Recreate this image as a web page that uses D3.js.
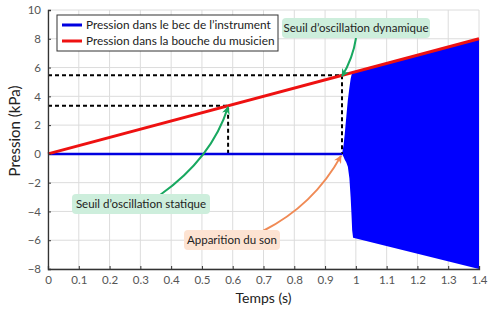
<!DOCTYPE html>
<html>
<head>
<meta charset="utf-8">
<script src="https://cdn.jsdelivr.net/npm/d3@7"></script>
<style>
  body { margin: 0; background: #fff; }
  text { font-family: "Lato", "Liberation Sans", sans-serif; }
</style>
</head>
<body>
<div id="chart"></div>
<script>
// data
let xTicks = [0, 0.1, 0.2, 0.3, 0.4, 0.5, 0.6, 0.7, 0.8, 0.9, 1, 1.1, 1.2, 1.3, 1.4];
let yTicks = [-8, -6, -4, -2, 0, 2, 4, 6, 8, 10];

// pressure in the player's mouth (linear ramp)
let mouthT = [0, 1.4];
let mouthP = [0, 8];

// pressure in the mouthpiece before oscillation
let beakT = [0, 0.955];
let beakP = [0, 0];

// oscillation envelope once the sound starts
let envT = [0.955, 0.96, 0.964, 0.969, 0.974, 0.979, 0.983, 0.986, 0.988, 0.991, 1.4];
let envUpper = [0, 0.6, 1.4, 2.6, 3.75, 4.6, 5.2, 5.5, 5.6, 5.64, 7.96];
let envLower = [0, -0.2, -0.4, -0.6, -0.9, -1.7, -3.0, -4.3, -5.3, -5.83, -8.0];

// thresholds
let staticT = 0.585, staticP = 3.34;
let dynamicT = 0.955, dynamicP = 5.46;

let width = 488, height = 309;
let margin = {left: 48, right: 9, top: 10, bottom: 40};

let svg = d3.select("#chart").append("svg")
    .attr("width", width)
    .attr("height", height);

let x = d3.scaleLinear().domain([0, 1.4]).range([margin.left, width - margin.right]);
let y = d3.scaleLinear().domain([-8, 10]).range([height - margin.bottom, margin.top]);

// grid
svg.append("g").selectAll("line").data(xTicks).join("line")
    .attr("x1", d => x(d)).attr("x2", d => x(d))
    .attr("y1", y(-8)).attr("y2", y(10))
    .style("stroke", "#dcdcdc").style("stroke-width", 1);
svg.append("g").selectAll("line").data(yTicks).join("line")
    .attr("x1", x(0)).attr("x2", x(1.4))
    .attr("y1", d => y(d)).attr("y2", d => y(d))
    .style("stroke", "#dcdcdc").style("stroke-width", 1);

// blue oscillation envelope
let env = envT.map((t, i) => ({t: t, hi: envUpper[i], lo: envLower[i]}));
svg.append("path")
    .datum(env)
    .attr("d", d3.area().x(d => x(d.t)).y0(d => y(d.lo)).y1(d => y(d.hi)))
    .style("fill", "#0000ff");

// dashed threshold guides
let dash = svg.append("g")
    .style("stroke", "#000").style("stroke-width", 2)
    .style("stroke-dasharray", "4,3").style("fill", "none");
[[staticT, staticP], [dynamicT, dynamicP]].forEach(p => {
    dash.append("path")
        .attr("d", d3.line()([[x(0), y(p[1])], [x(p[0]), y(p[1])], [x(p[0]), y(0)]]));
});

// lines
let line = d3.line().x(d => x(d[0])).y(d => y(d[1]));
svg.append("path")
    .datum(beakT.map((t, i) => [t, beakP[i]]))
    .attr("d", line)
    .style("fill", "none").style("stroke", "#0000e0").style("stroke-width", 2.5);
svg.append("path")
    .datum(mouthT.map((t, i) => [t, mouthP[i]]))
    .attr("d", line)
    .style("fill", "none").style("stroke", "#ee1111").style("stroke-width", 3);

// axes
let xAxis = svg.append("g")
    .attr("transform", "translate(0," + y(-8) + ")")
    .call(d3.axisBottom(x).tickValues(xTicks).tickSize(-3).tickPadding(7).tickFormat(d3.format("~g")));
let yAxis = svg.append("g")
    .attr("transform", "translate(" + x(0) + ",0)")
    .call(d3.axisLeft(y).tickValues(yTicks).tickSize(-3).tickPadding(7));
[xAxis, yAxis].forEach(a => {
    a.select(".domain").style("stroke", "#333").style("stroke-width", 1.3);
    a.selectAll(".tick line").style("stroke", "#333");
    a.selectAll(".tick text")
        .style("font-family", "Lato, sans-serif")
        .style("font-size", "11.5px")
        .style("fill", "#555");
});

svg.append("text")
    .attr("x", (x(0) + x(1.4)) / 2)
    .attr("y", 303)
    .attr("text-anchor", "middle")
    .style("font-size", "14px")
    .style("fill", "#222")
    .text("Temps (s)");

svg.append("text")
    .attr("transform", "translate(20," + 131 + ") rotate(-90)")
    .attr("text-anchor", "middle")
    .style("font-size", "15px")
    .style("fill", "#222")
    .text("Pression (kPa)");

// legend
let legend = svg.append("g");
legend.append("rect")
    .attr("x", 57).attr("y", 15).attr("width", 221).attr("height", 36)
    .style("fill", "#fff").style("stroke", "#333").style("stroke-width", 1);
let legendItems = [["Pression dans le bec de l’instrument", "#0000e0"], ["Pression dans la bouche du musicien", "#ee1111"]];
legendItems.forEach((item, i) => {
    legend.append("line")
        .attr("x1", 62).attr("x2", 82)
        .attr("y1", 25 + i * 16).attr("y2", 25 + i * 16)
        .style("stroke", item[1]).style("stroke-width", 3);
    legend.append("text")
        .attr("x", 86).attr("y", 29 + i * 16)
        .style("font-size", "11.8px")
        .style("fill", "#222")
        .text(item[0]);
});

// annotations
let defs = svg.append("defs");
function marker(id, color) {
    defs.append("marker")
        .attr("id", id)
        .attr("markerUnits", "userSpaceOnUse")
        .attr("viewBox", "0 0 10 10")
        .attr("refX", 9).attr("refY", 5)
        .attr("markerWidth", 8).attr("markerHeight", 8)
        .attr("orient", "auto")
        .append("path")
        .attr("d", "M0,0 L10,5 L0,10 L3,5 Z")
        .style("fill", color);
}
marker("arrowGreen", "#18a860");
marker("arrowOrange", "#f08a55");

let notes = [
    {text: "Seuil d’oscillation dynamique", cx: 356, cy: 28, w: 148, fill: "#cdeedc", stroke: "#18a860",
     path: "M356,38 Q353,58 " + x(dynamicT) + "," + (y(dynamicP) + 1), arrow: "arrowGreen"},
    {text: "Seuil d’oscillation statique", cx: 141, cy: 204, w: 138, fill: "#cdeedc", stroke: "#18a860",
     path: "M160,195 Q212,158 " + x(staticT) + "," + (y(staticP) + 1), arrow: "arrowGreen"},
    {text: "Apparition du son", cx: 232, cy: 240, w: 96, fill: "#fde3d2", stroke: "#f08a55",
     path: "M263,231 Q314,205 " + (x(dynamicT) - 1) + "," + (y(0) + 2), arrow: "arrowOrange"}
];
notes.forEach(n => {
    svg.append("path")
        .attr("d", n.path)
        .style("fill", "none").style("stroke", n.stroke).style("stroke-width", 2)
        .attr("marker-end", "url(#" + n.arrow + ")");
    svg.append("rect")
        .attr("x", n.cx - n.w / 2).attr("y", n.cy - 10)
        .attr("width", n.w).attr("height", 20)
        .attr("rx", 4)
        .style("fill", n.fill);
    svg.append("text")
        .attr("x", n.cx).attr("y", n.cy + 4)
        .attr("text-anchor", "middle")
        .style("font-size", "11.5px")
        .style("fill", "#222")
        .text(n.text);
});
</script>
</body>
</html>
